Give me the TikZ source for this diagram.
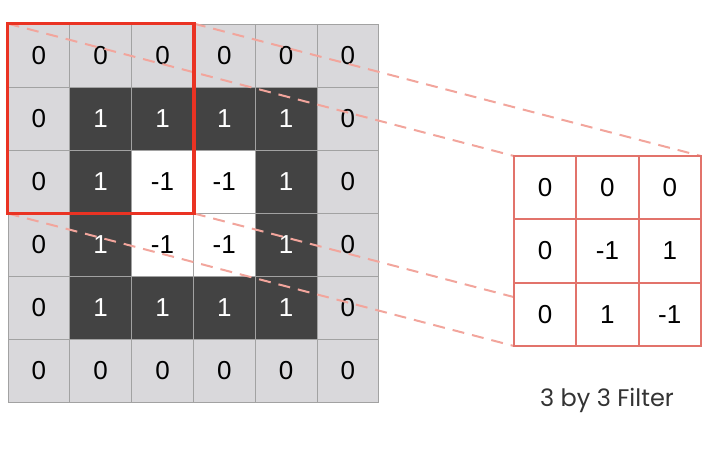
\documentclass[tikz,border=0pt]{standalone}
\usepackage{fontspec}
\setmainfont{Liberation Sans}
\newfontfamily\labelfont{Poppins}

\begin{document}
\begin{tikzpicture}[x=1pt, y=-1pt]

\definecolor{cellLight}{HTML}{D9D8DB}
\definecolor{cellDark}{HTML}{434343}
\definecolor{gridLine}{HTML}{A2A2A2}
\definecolor{windowRed}{HTML}{EA3323}
\definecolor{filterLine}{HTML}{E2736B}
\definecolor{dashPink}{HTML}{F2A59C}
\definecolor{labelGray}{HTML}{333333}

\tikzset{
  cell/.style={rectangle, inner sep=0pt, minimum width=61.8pt, minimum height=63pt,
    draw=gridLine, line width=0.8pt, font=\fontsize{26}{26}\selectfont},
  lightcell/.style={cell, fill=cellLight, text=black},
  darkcell/.style={cell, fill=cellDark, text=white},
  whitecell/.style={cell, fill=white, text=black},
  filtercell/.style={rectangle, inner sep=0pt, minimum width=62.3pt, minimum height=63.3pt,
    draw=filterLine, line width=2pt, fill=white, text=black, font=\fontsize{26}{26}\selectfont},
  zoomline/.style={draw=dashPink, line width=2pt, dash pattern=on 12pt off 8pt},
}

\useasboundingbox (0, 0) rectangle (710, 459);

% Input image (6 by 6)
% Row 0
\foreach \c/\kind/\val in {0/lightcell/0, 1/lightcell/0, 2/lightcell/0, 3/lightcell/0, 4/lightcell/0, 5/lightcell/0}
  \node[\kind] (g-0-\c) at ({8+61.8*(\c+0.5)}, 55.5) {\val};
% Row 1
\foreach \c/\kind/\val in {0/lightcell/0, 1/darkcell/1, 2/darkcell/1, 3/darkcell/1, 4/darkcell/1, 5/lightcell/0}
  \node[\kind] (g-1-\c) at ({8+61.8*(\c+0.5)}, 118.5) {\val};
% Row 2
\foreach \c/\kind/\val in {0/lightcell/0, 1/darkcell/1, 2/whitecell/-1, 3/whitecell/-1, 4/darkcell/1, 5/lightcell/0}
  \node[\kind] (g-2-\c) at ({8+61.8*(\c+0.5)}, 181.5) {\val};
% Row 3
\foreach \c/\kind/\val in {0/lightcell/0, 1/darkcell/1, 2/whitecell/-1, 3/whitecell/-1, 4/darkcell/1, 5/lightcell/0}
  \node[\kind] (g-3-\c) at ({8+61.8*(\c+0.5)}, 244.5) {\val};
% Row 4
\foreach \c/\kind/\val in {0/lightcell/0, 1/darkcell/1, 2/darkcell/1, 3/darkcell/1, 4/darkcell/1, 5/lightcell/0}
  \node[\kind] (g-4-\c) at ({8+61.8*(\c+0.5)}, 307.5) {\val};
% Row 5
\foreach \c/\kind/\val in {0/lightcell/0, 1/lightcell/0, 2/lightcell/0, 3/lightcell/0, 4/lightcell/0, 5/lightcell/0}
  \node[\kind] (g-5-\c) at ({8+61.8*(\c+0.5)}, 370.5) {\val};

% Corners of the filter (needed before the filter is drawn on top)
\coordinate (filterNW) at (514, 156);
\coordinate (filterNE) at (701, 156);
\coordinate (filterSW) at (514, 346);
\coordinate (filterSE) at (701, 346);

% Dashed projection lines
\draw[zoomline] (g-0-0.north west) -- (filterNW);
\draw[zoomline] (g-0-2.north east) -- (filterNE);
\draw[zoomline] (g-2-0.south west) -- (filterSW);
\draw[zoomline] (g-2-2.south east) -- (filterSE);

% Red window over the top left 3 by 3 patch
\draw[windowRed, line width=3.5pt] (g-0-0.north west) rectangle (g-2-2.south east);

% Filter (3 by 3)
\foreach \c/\val in {0/0, 1/0, 2/0}
  \node[filtercell] (f-0-\c) at ({514+62.3*(\c+0.5)}, 187.65) {\val};
\foreach \c/\val in {0/0, 1/-1, 2/1}
  \node[filtercell] (f-1-\c) at ({514+62.3*(\c+0.5)}, 250.95) {\val};
\foreach \c/\val in {0/0, 1/1, 2/-1}
  \node[filtercell] (f-2-\c) at ({514+62.3*(\c+0.5)}, 314.25) {\val};

% Caption
\node[font=\labelfont\fontsize{24}{24}\selectfont, text=labelGray] (filterLabel) at (607, 400) {3 by 3 Filter};

\end{tikzpicture}
\end{document}
